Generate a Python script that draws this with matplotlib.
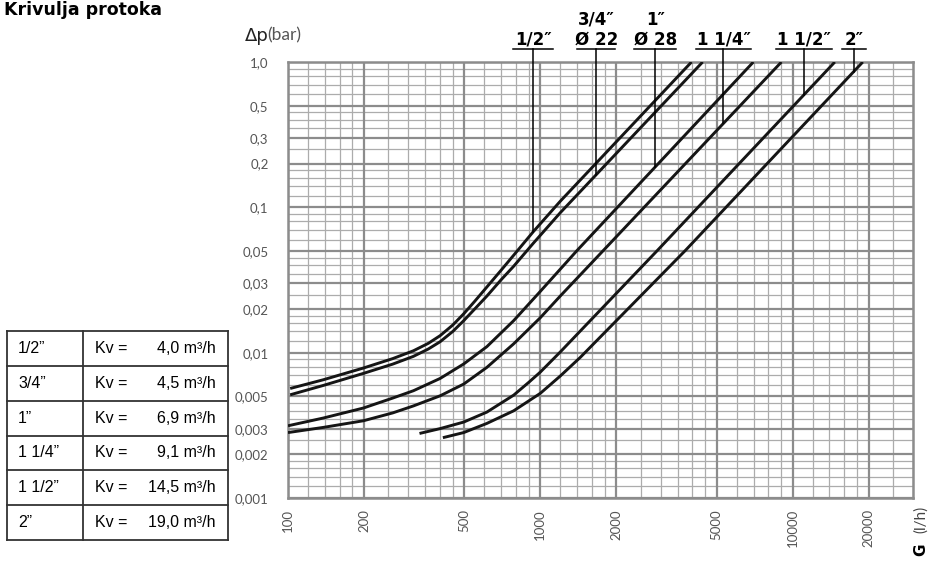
import matplotlib
matplotlib.use('Agg')
import matplotlib.pyplot as plt
import numpy as np

# curve data: flow G (l/h) vs pressure drop (bar)
q_12 = [102, 138, 199, 260, 314, 360, 401, 450, 497, 550, 614, 700, 784, 938, 1199, 3975]
dp_12 = [0.00567, 0.00651, 0.00784, 0.0091, 0.0103, 0.0116, 0.0131, 0.0155, 0.0185,
         0.0226, 0.0283, 0.037, 0.0468, 0.068, 0.11, 1.0]

q_34 = [102, 138, 199, 260, 314, 360, 401, 450, 497, 550, 614, 700, 784, 938, 1199, 4400]
dp_34 = [0.00513, 0.00595, 0.0072, 0.00834, 0.00943, 0.0106, 0.0119, 0.014, 0.0166,
         0.02, 0.0245, 0.0318, 0.0393, 0.0566, 0.0917, 1.0]

q_1 = [100, 138, 199, 260, 314, 401, 497, 614, 784, 1000, 1399, 6990]
dp_1 = [0.00314, 0.00355, 0.00416, 0.00487, 0.00547, 0.00665, 0.00836, 0.011, 0.0166,
        0.0264, 0.0505, 1.0]

q_114 = [100, 138, 199, 260, 314, 401, 497, 614, 784, 1000, 1199, 1778, 9030]
dp_114 = [0.00282, 0.00306, 0.0034, 0.00385, 0.0043, 0.00505, 0.00608, 0.00792, 0.0115,
          0.0174, 0.0245, 0.0505, 1.0]

q_112 = [332, 400, 497, 614, 784, 900, 1000, 1199, 2911, 14700]
dp_112 = [0.00278, 0.003, 0.00333, 0.0039, 0.0051, 0.00625, 0.00735, 0.0101, 0.0505, 1.0]

q_2 = [411, 497, 614, 784, 1000, 1199, 1442, 3758, 18970]
dp_2 = [0.0026, 0.00282, 0.00326, 0.00398, 0.00525, 0.0069, 0.0093, 0.0505, 1.0]

curves = [(q_12, dp_12), (q_34, dp_34), (q_1, dp_1),
          (q_114, dp_114), (q_112, dp_112), (q_2, dp_2)]

# labels above the chart: (first line, second line)
size_top = ['', '3/4\u2033', '1\u2033', '', '', '']
size_bottom = ['1/2\u2033', '\u00d8 22', '\u00d8 28', '1 1/4\u2033', '1 1/2\u2033', '2\u2033']
label_q = [938, 1667, 2858, 5321, 11070, 17470]
label_halfw = [20, 19, 21, 27, 28, 12]  # px

x_ticks = [100, 200, 500, 1000, 2000, 5000, 10000, 20000]
x_labels = ['100', '200', '500', '1000', '2000', '5000', '10000', '20000']
y_ticks = [1.0, 0.5, 0.3, 0.2, 0.1, 0.05, 0.03, 0.02, 0.01, 0.005, 0.003, 0.002, 0.001]
y_labels = ['1,0', '0,5', '0,3', '0,2', '0,1', '0,05', '0,03', '0,02', '0,01',
            '0,005', '0,003', '0,002', '0,001']

table_size = ['1/2\u201d', '3/4\u201d', '1\u201d', '1 1/4\u201d', '1 1/2\u201d', '2\u201d']
table_kv = ['4,0', '4,5', '6,9', '9,1', '14,5', '19,0']

W, H = 931, 564
fig = plt.figure(figsize=(W / 100, H / 100), dpi=100)
L, R, T, B = 288, 913, 62, 498
ax = fig.add_axes([L / W, 1 - B / H, (R - L) / W, (B - T) / H])
ax.set_xscale('log')
ax.set_yscale('log')
ax.set_xlim(100, 30000)
ax.set_ylim(0.001, 1.0)
ax.minorticks_off()

major_c, minor_c = '#8c8c8c', '#acacac'
x_major = [1, 2, 5]
x_minor = [1.2, 1.4, 1.6, 1.8, 2.5, 3, 3.5, 4, 4.5, 6, 7, 8, 9]
y_major = [1, 2, 3, 5]
y_minor = [1.2, 1.4, 1.6, 1.8, 2.5, 3.5, 4, 4.5, 6, 7, 8, 9]
for dec in [100, 1000, 10000]:
    for m in x_minor:
        if dec * m <= 30000:
            ax.axvline(dec * m, color=minor_c, lw=0.9, zorder=1)
    for m in x_major:
        ax.axvline(dec * m, color=major_c, lw=1.6, zorder=1.5)
for dec in [0.001, 0.01, 0.1]:
    for m in y_minor:
        ax.axhline(dec * m, color=minor_c, lw=0.9, zorder=1)
    for m in y_major:
        ax.axhline(dec * m, color=major_c, lw=1.6, zorder=1.5)
ax.axhline(1.0, color=major_c, lw=1.6, zorder=1.5)
for s in ax.spines.values():
    s.set_color(major_c)
    s.set_linewidth(1.8)

for q, dp in curves:
    ax.plot(q, dp, color='#151515', lw=2.1, solid_capstyle='butt',
            solid_joinstyle='round', zorder=3)

tick_font = dict(family='Lato', color='#555555', size=9.5)
ax.set_xticks(x_ticks)
ax.set_xticklabels(x_labels, rotation=90, va='top', ha='center', **tick_font)
ax.set_yticks(y_ticks)
ax.set_yticklabels(y_labels, **tick_font)
ax.tick_params(length=0)
ax.tick_params(axis='x', pad=8)
ax.tick_params(axis='y', pad=14)


def px2dp(y):
    return 10 ** ((T - y) / 145.0)


# size labels with underline and leader to the curve
for i, q in enumerate(label_q):
    cq, cdp = curves[i]
    end = 10 ** np.interp(np.log10(q), np.log10(cq), np.log10(cdp))
    hw = 10 ** (label_halfw[i] / 252.0)
    y_ul = px2dp(49)
    ax.plot([q / hw, q * hw], [y_ul, y_ul], color='black', lw=1.1, clip_on=False, zorder=4)
    ax.plot([q, q], [y_ul, end], color='black', lw=1.1, clip_on=False, zorder=4)
    ax.text(q, px2dp(45), size_bottom[i], ha='center', va='baseline', fontsize=12,
            fontweight='bold', family='DejaVu Sans', clip_on=False)
    if size_top[i]:
        ax.text(q, px2dp(25), size_top[i], ha='center', va='baseline', fontsize=12,
                fontweight='bold', family='DejaVu Sans', clip_on=False)

# titles and axis names
fig.text(4 / W, 1 - 10 / H, 'Krivulja protoka', fontsize=12.5, fontweight='bold',
         family='DejaVu Sans', va='center', ha='left')
fig.text(245 / W, 1 - 36 / H, '\u0394p', fontsize=13, family='DejaVu Sans',
         va='center', ha='left', color='#222222')
fig.text(267 / W, 1 - 35 / H, '(bar)', fontsize=12.5, family='Lato',
         va='center', ha='left', color='#555555')
fig.text(921 / W, 1 - 550 / H, 'G', fontsize=11, fontweight='bold', family='DejaVu Sans',
         rotation=90, va='center', ha='center')
fig.text(921 / W, 1 - 519 / H, '(l/h)', fontsize=11, family='Lato',
         rotation=90, va='center', ha='center', color='#444444')

# Kv table
tx, ty, tw, th = 7, 331, 221, 209
tab = fig.add_axes([tx / W, 1 - (ty + th) / H, tw / W, th / H])
tab.set_xlim(0, tw)
tab.set_ylim(th, 0)
tab.axis('off')
rh = th / len(table_size)
line_kw = dict(color='#333333', lw=1.3, clip_on=False)
for r in range(len(table_size) + 1):
    tab.plot([0, tw], [r * rh, r * rh], **line_kw)
for cx in [0, 76, tw]:
    tab.plot([cx, cx], [0, th], **line_kw)
for r, (sz, kv) in enumerate(zip(table_size, table_kv)):
    yc = (r + 0.5) * rh
    tab.text(11, yc, sz, va='center', ha='left', fontsize=11.5, family='Liberation Sans')
    tab.text(88, yc, 'Kv =', va='center', ha='left', fontsize=11.5, family='Liberation Sans')
    tab.text(209, yc, kv + ' m\u00b3/h', va='center', ha='right', fontsize=11.5,
             family='Liberation Sans')

fig.savefig('out.png', dpi=100)
